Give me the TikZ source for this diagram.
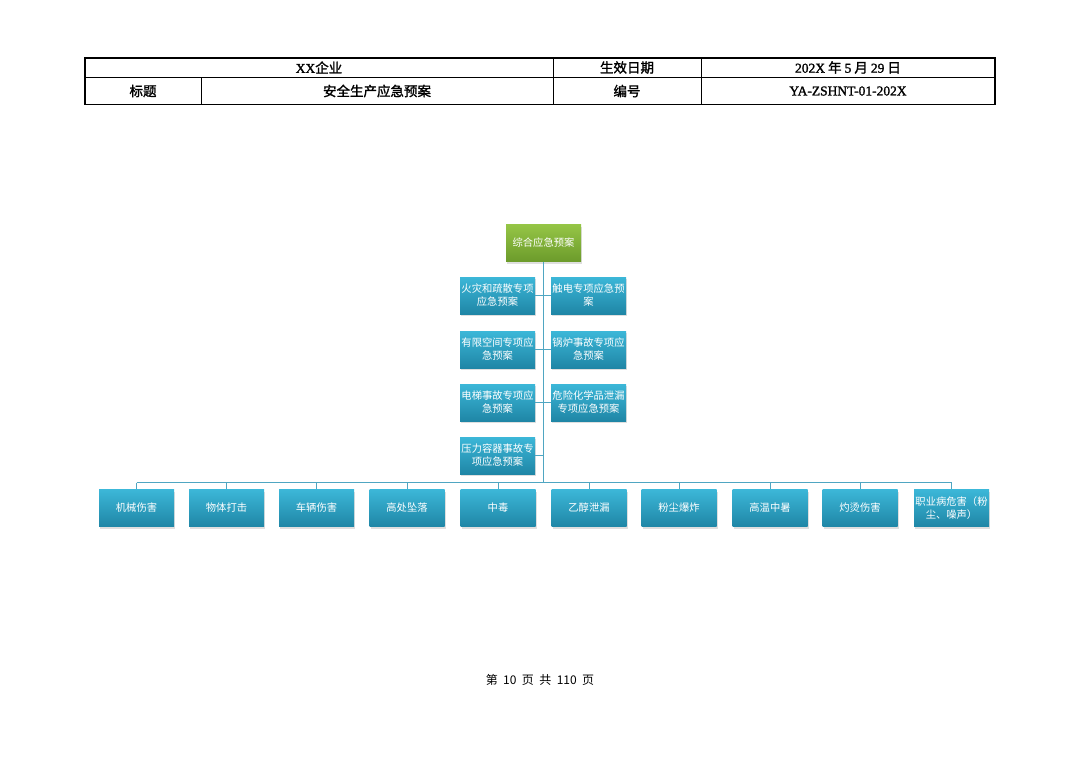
\documentclass[tikz,border=0pt]{standalone}
\usepackage{fontspec}
\setmainfont{Noto Sans CJK SC}
\newfontfamily\cjkb[FakeBold=1.5]{Noto Sans CJK SC}
\newfontfamily\latb[FakeBold=1.5]{Liberation Serif}
\usetikzlibrary{shadows}
\definecolor{linec}{HTML}{4FA6C2}
\definecolor{btop}{HTML}{3CB7D8}
\definecolor{bbot}{HTML}{1F86A6}
\definecolor{gtop}{HTML}{95C546}
\definecolor{gbot}{HTML}{6C9B2B}
\tikzset{
  box/.style={rectangle, minimum width=75pt, minimum height=37pt, inner sep=1pt,
    align=center, text=white, font=\fontsize{10.3}{13}\selectfont,
    top color=btop, bottom color=bbot, draw=none,
    drop shadow={opacity=0.25, shadow xshift=1pt, shadow yshift=-2pt}},
  gbox/.style={box, top color=gtop, bottom color=gbot},
  conn/.style={draw=linec, line width=0.9pt},
  cell/.style={font=\cjkb\fontsize{13.5}{15}\selectfont, inner sep=0pt},
}
\begin{document}
\begin{tikzpicture}[x=1pt,y=-1pt]
\useasboundingbox (0,0) rectangle (1080,763);
% table
\draw[line width=0.8pt] (85,77) -- (995,77);
\draw[line width=0.8pt] (201,77) -- (201,104.5);
\draw[line width=0.8pt] (553,58) -- (553,104.5);
\draw[line width=0.8pt] (701,58) -- (701,104.5);
\draw[line width=1.8pt] (85,58) rectangle (995,104.5);
\node[cell] (t1) at (319,67.5) {{\latb XX}企业};
\node[cell] (t2) at (627,67.5) {生效日期};
\node[cell] (t3) at (848,67.5) {{\latb 202X} 年 {\latb 5} 月 {\latb 29} 日};
\node[cell] (t4) at (143,91) {标题};
\node[cell] (t5) at (377,91) {安全生产应急预案};
\node[cell] (t6) at (627,91) {编号};
\node[cell] (t7) at (848,91) {\latb YA-ZSHNT-01-202X};
% chart
\node[gbox] (root) at (543.5,243) {综合应急预案};
\node[box] (l1) at (497.5,295.5) {火灾和疏散专项\\应急预案};
\node[box] (r1) at (588.5,295.5) {触电专项应急预\\案};
\node[box] (l2) at (497.5,349.5) {有限空间专项应\\急预案};
\node[box] (r2) at (588.5,349.5) {锅炉事故专项应\\急预案};
\node[box] (l3) at (497.5,402.5) {电梯事故专项应\\急预案};
\node[box] (r3) at (588.5,402.5) {危险化学品泄漏\\专项应急预案};
\node[box] (l4) at (497.5,455.5) {压力容器事故专\\项应急预案};
\coordinate (bus) at (543.5,482.5);
\draw[conn] (root.south) -- (bus);
\foreach \n in {l1,l2,l3,l4} \draw[conn] (\n.east) -- (\n.east -| bus);
\foreach \n in {r1,r2,r3} \draw[conn] (\n.west) -- (\n.west -| bus);
\foreach \i/\x/\t in {1/136.5/机械伤害, 2/226.5/物体打击, 3/316.5/车辆伤害, 4/407/高处坠落, 5/498/中毒,
  6/589/乙醇泄漏, 7/679/粉尘爆炸, 8/770/高温中暑, 9/860/灼烫伤害, 10/951.5/{职业病危害（粉\\尘、噪声）}} {
  \node[box] (b\i) at (\x,508) {\t};
}
\draw[conn] (b1.north |- bus) -- (b10.north |- bus);
\foreach \i in {1,...,10} \draw[conn] (b\i.north |- bus) -- (b\i.north);
% footer
\node[font=\fontsize{12}{14}\selectfont, inner sep=0pt] (foot) at (540,680) {第\hspace{0.45em}10\hspace{0.45em}页\hspace{0.45em}共\hspace{0.45em}110\hspace{0.45em}页};
\end{tikzpicture}
\end{document}
